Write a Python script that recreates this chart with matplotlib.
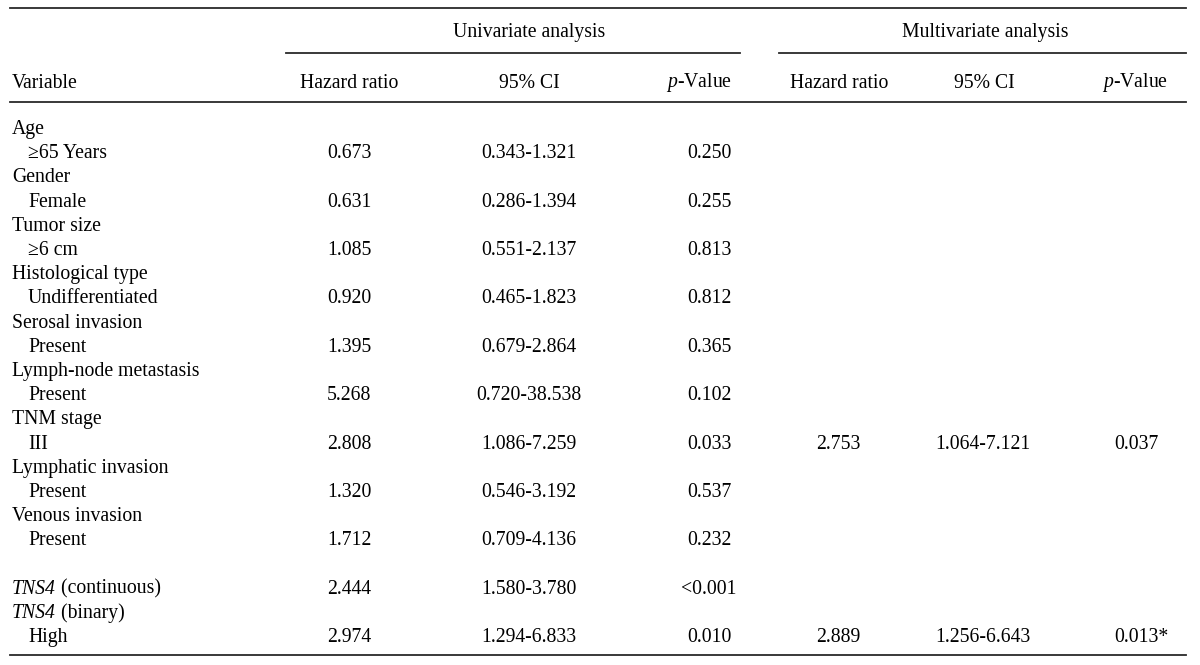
import matplotlib
matplotlib.use("Agg")
import matplotlib.pyplot as plt

plt.rcParams['font.family'] = ['Liberation Serif', 'DejaVu Serif']
plt.rcParams['mathtext.fontset'] = 'custom'
plt.rcParams['mathtext.rm'] = 'Liberation Serif'
plt.rcParams['mathtext.it'] = 'Liberation Serif:italic'

# table content (None = empty row); row_italic holds an italic prefix for the label
row_labels = ["Age", "\u226565 Years", "Gender", "Female", "Tumor size", "\u22656 cm",
              "Histological type", "Undifferentiated", "Serosal invasion", "Present",
              "Lymph-node metastasis", "Present", "TNM stage", "III",
              "Lymphatic invasion", "Present", "Venous invasion", "Present", None,
              " (continuous)", " (binary)", "High"]
row_italic = [""] * 19 + ["TNS4", "TNS4", ""]
row_indent = [0, 1, 0, 1, 0, 1, 0, 1, 0, 1, 0, 1, 0, 1, 0, 1, 0, 1, 0, 0, 0, 1]
uni_hr = ["", "0.673", "", "0.631", "", "1.085", "", "0.920", "", "1.395", "", "5.268",
          "", "2.808", "", "1.320", "", "1.712", "", "2.444", "", "2.974"]
uni_ci = ["", "0.343-1.321", "", "0.286-1.394", "", "0.551-2.137", "", "0.465-1.823",
          "", "0.679-2.864", "", "0.720-38.538", "", "1.086-7.259", "", "0.546-3.192",
          "", "0.709-4.136", "", "1.580-3.780", "", "1.294-6.833"]
uni_p = ["", "0.250", "", "0.255", "", "0.813", "", "0.812", "", "0.365", "", "0.102",
         "", "0.033", "", "0.537", "", "0.232", "", "<0.001", "", "0.010"]
multi_hr = [""] * 13 + ["2.753"] + [""] * 7 + ["2.889"]
multi_ci = [""] * 13 + ["1.064-7.121"] + [""] * 7 + ["1.256-6.643"]
multi_p = [""] * 13 + ["0.037"] + [""] * 7 + ["0.013*"]

group_headers = ["Univariate analysis", "Multivariate analysis"]
col_headers = ["Hazard ratio", "95% CI", r"$p$-Value"]

fig = plt.figure(figsize=(12, 6.65), dpi=100)
ax = fig.add_axes([0, 0, 1, 1])
ax.set_xlim(0, 1200)
ax.set_ylim(665, 0)
ax.axis('off')

fs = 14.2
lc = '#2a2a2a'

# rules
ax.plot([10, 1186], [8, 8], color=lc, lw=1.3)
ax.plot([286, 740], [53, 53], color=lc, lw=1.3)
ax.plot([779, 1186], [53, 53], color=lc, lw=1.3)
ax.plot([10, 1186], [102, 102], color=lc, lw=1.3)
ax.plot([10, 1186], [655, 655], color=lc, lw=1.3)

# headers
ax.text(529, 33, group_headers[0], ha='center', va='center', fontsize=fs)
ax.text(985, 33, group_headers[1], ha='center', va='center', fontsize=fs)
ax.text(12, 83, "Variable", ha='left', va='center', fontsize=fs)
for (xh, xc, xp) in [(349, 529, 732), (839, 984, 1168)]:
    ax.text(xh, 83, col_headers[0], ha='center', va='center', fontsize=fs)
    ax.text(xc, 83, col_headers[1], ha='center', va='center', fontsize=fs)
    ax.text(xp, 83, col_headers[2], ha='right', va='center', fontsize=fs)

# body
y0, dy = 129.5, 24.2
for i, lab in enumerate(row_labels):
    y = y0 + i * dy
    if lab is None:
        continue
    x = 12 + 16 * row_indent[i]
    if row_italic[i]:
        t = ax.text(x, y, row_italic[i], ha='left', va='center', fontsize=fs,
                    fontstyle='italic')
        ax.annotate(lab, xy=(1, 0), xycoords=t, ha='left', va='bottom', fontsize=fs)
    else:
        ax.text(x, y, lab, ha='left', va='center', fontsize=fs)
    ax.text(349, y, uni_hr[i], ha='center', va='center', fontsize=fs)
    ax.text(529, y, uni_ci[i], ha='center', va='center', fontsize=fs)
    ax.text(709, y, uni_p[i], ha='center', va='center', fontsize=fs)
    ax.text(838, y, multi_hr[i], ha='center', va='center', fontsize=fs)
    ax.text(983, y, multi_ci[i], ha='center', va='center', fontsize=fs)
    ax.text(1114, y, multi_p[i], ha='left', va='center', fontsize=fs)

fig.savefig("out.png", dpi=100)
